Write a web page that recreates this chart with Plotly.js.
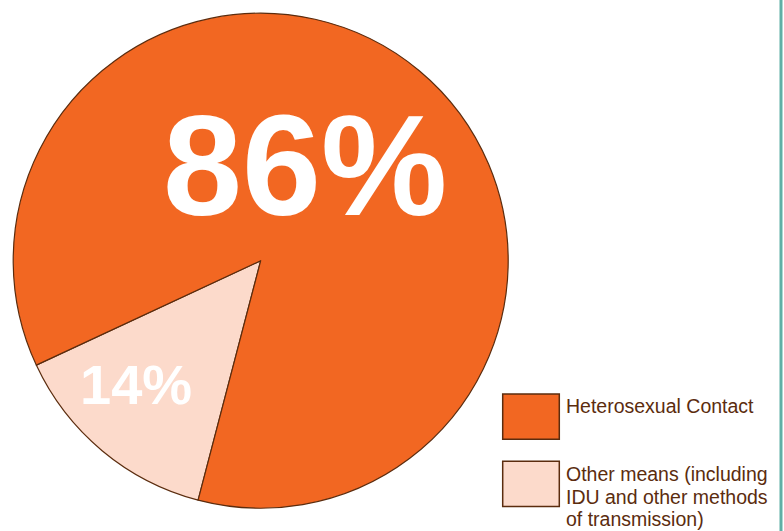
<!DOCTYPE html>
<html>
<head>
<meta charset="utf-8">
<script src="https://cdn.plot.ly/plotly-3.0.1.min.js"></script>
<style>html,body{margin:0;padding:0;background:#fff;}#chart{width:784px;height:531px;}</style>
</head>
<body>
<div id="chart"></div>
<script>
// Data
const categories = ["Other means (including IDU and other methods of transmission)", "Heterosexual Contact"];
const values = [14, 86];
const legendOrder = [1, 0];
const legendLines = [["Heterosexual Contact"], ["Other means (including", "IDU and other methods", "of transmission)"]];
const sliceColors = ["#FCDACB", "#F26722"];

const W = 784, H = 531;
const brown = "#5B2C0E";

const trace = {
  type: "pie",
  labels: categories,
  values: values,
  sort: false,
  direction: "clockwise",
  rotation: -165.35,
  textinfo: "none",
  hoverinfo: "label+percent",
  marker: { colors: sliceColors, line: { color: brown, width: 1.2 } },
  domain: { x: [13.2 / W, 508.2 / W], y: [1 - 508.2 / H, 1 - 13.2 / H] },
  showlegend: false
};

const annotations = [];
// Percent labels
const pctPos = [
  { x: 136 / W, y: 1 - 384 / H, size: 56 },
  { x: 305 / W, y: 1 - 166 / H, size: 142 }
];
values.forEach((v, i) => {
  annotations.push({
    xref: "paper", yref: "paper", x: pctPos[i].x, y: pctPos[i].y,
    xanchor: "center", yanchor: "middle", showarrow: false,
    text: "<b>" + v + "%</b>",
    font: { family: "Liberation Sans, Arial, sans-serif", size: pctPos[i].size, color: "#FFFFFF" }
  });
});

// Custom legend
const shapes = [];
const boxTops = [394, 461.3];
legendOrder.forEach((idx, k) => {
  const top = boxTops[k];
  shapes.push({
    type: "rect", xref: "paper", yref: "paper",
    x0: 502.7 / W, x1: 559.3 / W, y0: 1 - (top + 45.3) / H, y1: 1 - top / H,
    fillcolor: sliceColors[idx], line: { color: brown, width: 1.5 }
  });
  const lines = legendLines[k];
  lines.forEach((ln, j) => {
    const base = k === 0 ? 413.3 : 481.7 + j * 22.6;
    annotations.push({
      xref: "paper", yref: "paper", x: 564 / W, y: 1 - (base - 7.5) / H,
      xanchor: "left", yanchor: "middle", showarrow: false,
      text: ln,
      font: { family: "Liberation Sans, Arial, sans-serif", size: 19.5, color: brown }
    });
  });
});

// right teal rule
shapes.push({
  type: "line", xref: "paper", yref: "paper",
  x0: 781 / W, x1: 781 / W, y0: 0, y1: 1,
  line: { color: "#5FAFA5", width: 3 }
});

const layout = {
  width: W, height: H,
  margin: { l: 0, r: 0, t: 0, b: 0 },
  paper_bgcolor: "#FFFFFF",
  plot_bgcolor: "#FFFFFF",
  showlegend: false,
  annotations: annotations,
  shapes: shapes
};

Plotly.newPlot("chart", [trace], layout, { displayModeBar: false, staticPlot: true });
</script>
</body>
</html>
